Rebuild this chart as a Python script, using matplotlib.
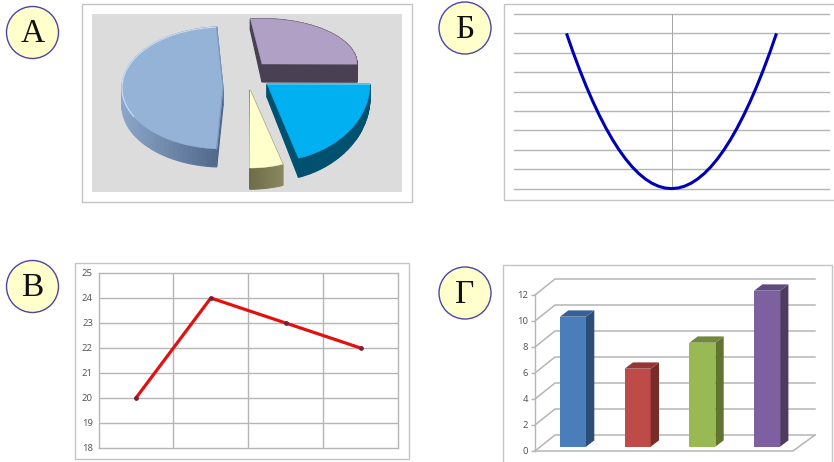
import matplotlib
matplotlib.use("Agg")
import matplotlib.pyplot as plt
import numpy as np
from matplotlib.patches import Circle, Rectangle
from matplotlib.transforms import ScaledTranslation

W, H = 834, 462
pie_names = ["purple", "cyan", "yellow", "blue"]
pie_values = [27, 20, 5, 48]
parabola_x = [-4, -3.75, -3.5, -3.25, -3, -2.75, -2.5, -2.25, -2, -1.75, -1.5, -1.25, -1, -0.75, -0.5, -0.25, 0,
              0.25, 0.5, 0.75, 1, 1.25, 1.5, 1.75, 2, 2.25, 2.5, 2.75, 3, 3.25, 3.5, 3.75, 4]
parabola_y = [16, 14.06, 12.25, 10.56, 9, 7.56, 6.25, 5.06, 4, 3.06, 2.25, 1.56, 1, 0.56, 0.25, 0.06, 0,
              0.06, 0.25, 0.56, 1, 1.56, 2.25, 3.06, 4, 5.06, 6.25, 7.56, 9, 10.56, 12.25, 14.06, 16]
line_categories = [0, 1, 2, 3]
line_values = [20, 24, 23, 22]
line_ticks = [18, 19, 20, 21, 22, 23, 24, 25]
bar_categories = [0, 1, 2, 3]
bar_values = [10, 6, 8, 12]
bar_ticks = [0, 2, 4, 6, 8, 10, 12]
panel_letters = ["А", "Б", "В", "Г"]

GRID = "#b5b5b5"
FRAME = "#c4c4c4"

fig = plt.figure(figsize=(W / 100, H / 100), dpi=100, facecolor="white")


def px_axes(x0, y0, x1, y1, **kw):
    return fig.add_axes([x0 / W, 1 - y1 / H, (x1 - x0) / W, (y1 - y0) / H], **kw)


canvas = fig.add_axes([0, 0, 1, 1], zorder=0)
canvas.set_xlim(0, W)
canvas.set_ylim(H, 0)
canvas.axis("off")

# frames
for x0, y0, x1, y1 in [(82, 4, 412, 202), (504, 4, 845, 200), (75, 263, 409.5, 459), (503.5, 265, 831.7, 480)]:
    canvas.add_patch(Rectangle((x0, y0), x1 - x0, y1 - y0, fc="white", ec=FRAME, lw=1.0))
canvas.add_patch(Rectangle((92, 14), 310, 178, fc="#dcdcdc", ec="none"))

# badges
for (cx, cy), letter in zip([(32.5, 32.5), (465, 28), (32.5, 286.5), (465, 293)], panel_letters):
    canvas.add_patch(Circle((cx, cy), 26, fc="#ffffcc", ec="#4a45a8", lw=1.0, zorder=5))
    canvas.text(cx, cy + 1.5, letter, family="Liberation Serif", fontsize=24, color="#111111",
                ha="center", va="center", zorder=6)

# pie A: exploded 3D look
styles = {
    "purple": dict(c=(262, 64), r=(95, 45.3), d=(11, 18), top="#b1a0c6", side=("#4a4053", "#4a4053"), off=0),
    "cyan": dict(c=(267, 84), r=(103, 78), d=(13, 19), top="#00b0f0", side=("#00506f", "#00506f"), off=0),
    "yellow": dict(c=(250, 90), r=(107, 78), d=(21, 21), top="#ffffcc", side=("#6f6d48", "#8a8860"), off=0),
    "blue": dict(c=(223, 88), r=(101, 61), d=(18, 18), top="#95b3d7", side=("#8ba6c9", "#4d6486"), off=-3.4),
}


def mix(a, b, t):
    ca, cb = np.array(matplotlib.colors.to_rgb(a)), np.array(matplotlib.colors.to_rgb(b))
    return tuple(ca + (cb - ca) * t)


start = 97.0
for name, value in zip(pie_names, pie_values):
    st = styles[name]
    sweep = value / sum(pie_values) * 360
    th = np.radians(np.linspace(start + st["off"], start + st["off"] - sweep, 60))
    start -= sweep
    xs = st["c"][0] + st["r"][0] * np.cos(th)
    ys = st["c"][1] - st["r"][1] * np.sin(th)
    px = np.r_[st["c"][0], xs, st["c"][0]]
    py = np.r_[st["c"][1], ys, st["c"][1]]
    ymin, ymax = py.min(), py.max()
    dep = st["d"][0] + (py - ymin) / (ymax - ymin) * (st["d"][1] - st["d"][0])
    xmin, xmax = px.min(), px.max()
    for i in range(len(px) - 1):
        if abs(px[i + 1] - px[i]) < 0.01 and name == "yellow":
            continue
        t = ((px[i] + px[i + 1]) / 2 - xmin) / (xmax - xmin)
        col = mix(st["side"][0], st["side"][1], t)
        canvas.fill([px[i], px[i + 1], px[i + 1], px[i]],
                    [py[i], py[i + 1], py[i + 1] + dep[i + 1], py[i] + dep[i]],
                    fc=col, ec=col, lw=0.9, zorder=2)
    canvas.fill(px, py, fc=st["top"], ec=st["top"], lw=0.3, zorder=3)
    if name == "blue":
        canvas.plot(xs[20:], ys[20:], color="#c9daf0", lw=0.9, zorder=4)
        canvas.plot([xs[0], st["c"][0], xs[-1]], [ys[0], st["c"][1], ys[-1]], color="#7d9bc2", lw=0.9, zorder=4)
    if name == "cyan":
        canvas.plot(px[:2], py[:2], color="#5ccdf5", lw=0.9, zorder=4)

# panel B: parabola
axb = px_axes(514, 14, 829, 188.6, zorder=2)
axb.patch.set_alpha(0)
axb.set_xlim(-6, 6)
axb.set_ylim(0, 18)
for s in axb.spines.values():
    s.set_visible(False)
axb.set_xticks([])
axb.set_yticks([])
for v in range(0, 20, 2):
    axb.plot([-6, 6], [v, v], color=GRID, lw=1.0, clip_on=False, zorder=1)
axb.plot([0, 0], [0, 18], color="#a5a5a5", lw=0.7, zorder=1.5)
axb.plot(parabola_x, parabola_y, color="#0000b4", lw=2.2, solid_capstyle="butt", clip_on=False, zorder=3)

# panel V: line
axv = px_axes(98.5, 273, 398, 448, zorder=2)
axv.patch.set_alpha(0)
axv.set_xlim(-0.5, 3.5)
axv.set_ylim(18, 25)
for s in axv.spines.values():
    s.set_color(GRID)
    s.set_linewidth(1.0)
axv.set_xticks([])
axv.set_yticks(line_ticks)
axv.tick_params(axis="y", length=0, pad=4, labelsize=6.8, labelcolor="#505050")
for v in line_ticks[1:-1]:
    axv.axhline(v, color=GRID, lw=1.0, zorder=1)
for c in line_categories[:-1]:
    axv.axvline(c + 0.5, color=GRID, lw=1.0, zorder=1)
axv.plot(line_categories, line_values, color="#e2100f", lw=2.3, marker="o", ms=2.4,
         mfc="#70203c", mec="#70203c", zorder=3)
for lab in axv.get_yticklabels():
    lab.set_family("Open Sans")

# panel G: 3D-looking bars
PXX, PXY = 64.7, 13.0
axg = px_axes(535, 295, 793, 451, zorder=2)
axg.patch.set_alpha(0)
axg.set_xlim((535 - 573) / PXX, (793 - 573) / PXX)
axg.set_ylim(0, 12)
for s in axg.spines.values():
    s.set_visible(False)
axg.set_xticks([])
axg.set_yticks(bar_ticks)
axg.tick_params(axis="y", length=3, width=1.0, color=GRID, pad=2, labelsize=6.8, labelcolor="#505050")
for lab in axg.get_yticklabels():
    lab.set_family("Open Sans")
xl, xr = axg.get_xlim()
bx, by = 20 / PXX, 16 / PXY
for v in bar_ticks:
    axg.plot([xl, xl + bx, 815.0 / PXX - 573 / PXX], [v, v + by, v + by], color=GRID, lw=1.1,
             clip_on=False, zorder=1, solid_joinstyle="miter")
axg.plot([xl, xr, xr + (22 / PXX)], [0, 0, by], color=GRID, lw=1.1, clip_on=False, zorder=1)
axg.plot([xl, xl], [0, 12], color=GRID, lw=1.0, clip_on=False, zorder=1)

front = ["#4a7ebb", "#be4b48", "#98b954", "#7d60a0"]
side = ["#2c4d75", "#772c2a", "#5f7530", "#4d3b62"]
cap = ["#386098", "#943634", "#71893f", "#5e4a7d"]
lift = ScaledTranslation(0, 4.3 / 100, fig.dpi_scale_trans)
tr = axg.transData + lift
bw = 26 / PXX
dx, dy = 8.3 / PXX, 6.3 / PXY
for c, v, f, s_, t_ in zip(bar_categories, bar_values, front, side, cap):
    axg.bar(c, v, width=bw, color=f, transform=tr, clip_on=False, zorder=3)
    r = c + bw / 2
    l = c - bw / 2
    axg.fill([r, r + dx, r + dx, r], [0, dy, v + dy, v], fc=s_, ec="none", transform=tr, clip_on=False, zorder=3)
    axg.fill([l, l + dx, r + dx, r], [v, v + dy, v + dy, v], fc=t_, ec="none", transform=tr, clip_on=False, zorder=3)

fig.savefig("out.png", dpi=100)
